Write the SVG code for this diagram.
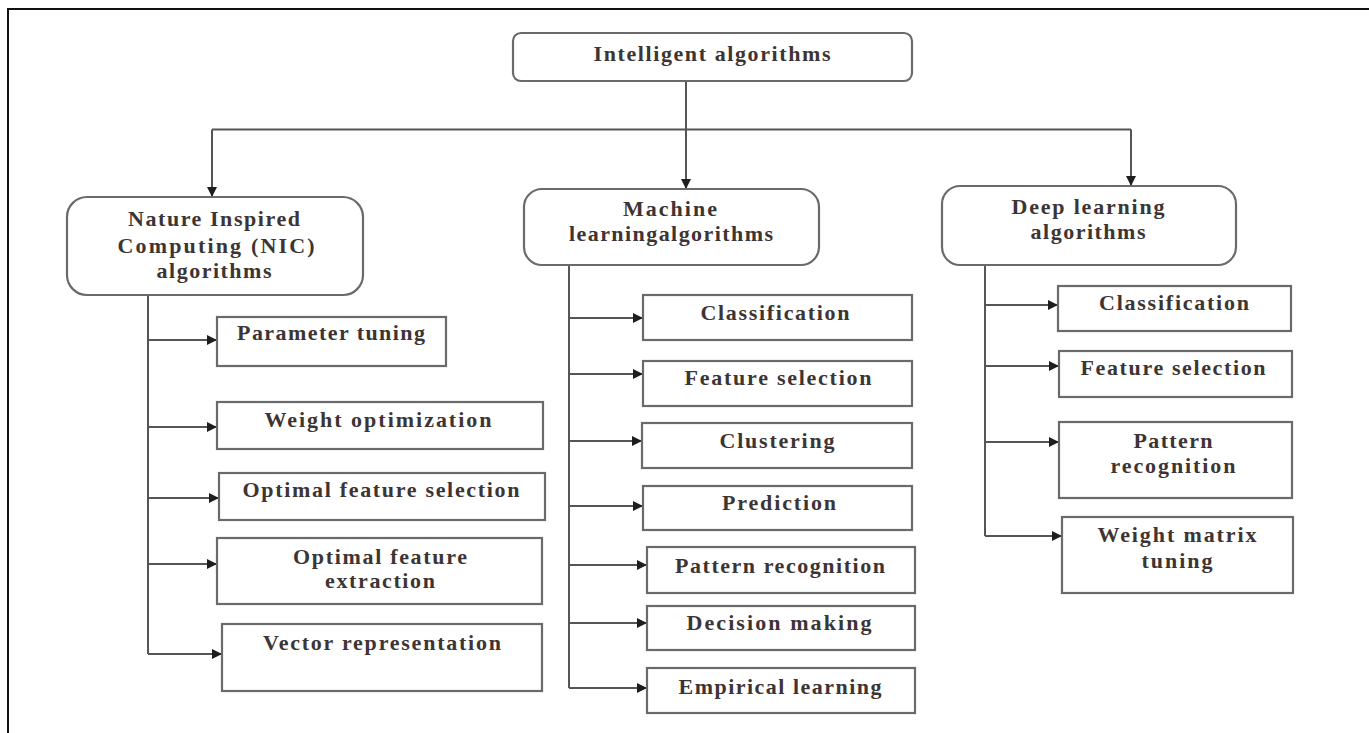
<svg xmlns="http://www.w3.org/2000/svg" width="1369" height="733" viewBox="0 0 1369 733">
  <defs>
    <marker id="arrow" viewBox="0 0 10 10" refX="10" refY="5" markerWidth="11" markerHeight="10" markerUnits="userSpaceOnUse" orient="auto">
      <path d="M0,0 L10,5 L0,10 z" fill="#1e1e1e"/>
    </marker>
    <style>
      .frame { stroke: #111; stroke-width: 2; fill: none; }
      .node { fill: #ffffff; stroke: #6a6a6a; stroke-width: 2.2; }
      .leaf { fill: #ffffff; stroke: #6a6a6a; stroke-width: 2.2; }
      .link { fill: none; stroke: #555; stroke-width: 2; }
      .arr { marker-end: url(#arrow); }
      text { font-family: "Liberation Serif", "Times New Roman", serif; font-size: 22px; font-weight: bold; fill: #3d3434; text-anchor: middle; }
    </style>
  </defs>

  <rect width="1369" height="733" fill="#ffffff"/>

  <!-- outer frame (top and left edges) -->
  <path class="frame" d="M8,733 V9 H1369"/>

  <!-- connectors -->
  <g id="connectors">
    <path class="link arr" d="M686,81 V189"/>
    <path class="link" d="M212,129.5 H1131"/>
    <path class="link arr" d="M212,129.5 V197"/>
    <path class="link arr" d="M1131,129.5 V186"/>

    <!-- NIC branch -->
    <path class="link" d="M148,295 V654"/>
    <path class="link arr" d="M148,340 H217"/>
    <path class="link arr" d="M148,427 H217"/>
    <path class="link arr" d="M148,498 H219"/>
    <path class="link arr" d="M148,564 H217"/>
    <path class="link arr" d="M148,654 H222"/>

    <!-- machine learning branch -->
    <path class="link" d="M569,265 V688"/>
    <path class="link arr" d="M569,318 H643"/>
    <path class="link arr" d="M569,374 H643"/>
    <path class="link arr" d="M569,441 H642"/>
    <path class="link arr" d="M569,506 H643"/>
    <path class="link arr" d="M569,565 H647"/>
    <path class="link arr" d="M569,623 H647"/>
    <path class="link arr" d="M569,688 H647"/>

    <!-- deep learning branch -->
    <path class="link" d="M985,265 V536"/>
    <path class="link arr" d="M985,305 H1058"/>
    <path class="link arr" d="M985,366 H1059"/>
    <path class="link arr" d="M985,442 H1059"/>
    <path class="link arr" d="M985,536 H1062"/>
  </g>

  <!-- root -->
  <g id="intelligent-algorithms">
    <rect class="node" x="513" y="33" width="399" height="48" rx="8"/>
    <text x="712" y="61" textLength="237" lengthAdjust="spacing">Intelligent algorithms</text>
  </g>

  <!-- second level -->
  <g id="nic-algorithms">
    <rect class="node" x="67" y="197" width="296" height="98" rx="20"/>
    <text x="214" y="226" textLength="172" lengthAdjust="spacing">Nature Inspired</text>
    <text x="216" y="253" textLength="197" lengthAdjust="spacing">Computing (NIC)</text>
    <text x="214" y="278" textLength="115" lengthAdjust="spacing">algorithms</text>
  </g>
  <g id="ml-algorithms">
    <rect class="node" x="524" y="189" width="295" height="76" rx="18"/>
    <text x="670" y="216" textLength="94" lengthAdjust="spacing">Machine</text>
    <text x="671" y="241" textLength="204" lengthAdjust="spacing">learningalgorithms</text>
  </g>
  <g id="dl-algorithms">
    <rect class="node" x="942" y="186" width="294" height="79" rx="18"/>
    <text x="1088" y="214" textLength="153" lengthAdjust="spacing">Deep learning</text>
    <text x="1088" y="239" textLength="115" lengthAdjust="spacing">algorithms</text>
  </g>

  <!-- NIC leaves -->
  <g id="nic-parameter-tuning">
    <rect class="leaf" x="217" y="317" width="229" height="49"/>
    <text x="331" y="340" textLength="188" lengthAdjust="spacing">Parameter tuning</text>
  </g>
  <g id="nic-weight-optimization">
    <rect class="leaf" x="217" y="402" width="326" height="47"/>
    <text x="378" y="427" textLength="227" lengthAdjust="spacing">Weight optimization</text>
  </g>
  <g id="nic-optimal-feature-selection">
    <rect class="leaf" x="219" y="473" width="326" height="47"/>
    <text x="381" y="497" textLength="277" lengthAdjust="spacing">Optimal feature selection</text>
  </g>
  <g id="nic-optimal-feature-extraction">
    <rect class="leaf" x="217" y="538" width="325" height="66"/>
    <text x="380" y="564" textLength="174" lengthAdjust="spacing">Optimal feature</text>
    <text x="380" y="588" textLength="110" lengthAdjust="spacing">extraction</text>
  </g>
  <g id="nic-vector-representation">
    <rect class="leaf" x="222" y="624" width="320" height="67"/>
    <text x="382" y="650" textLength="238" lengthAdjust="spacing">Vector representation</text>
  </g>

  <!-- machine learning leaves -->
  <g id="ml-classification">
    <rect class="leaf" x="643" y="295" width="269" height="45"/>
    <text x="775" y="320" textLength="149" lengthAdjust="spacing">Classification</text>
  </g>
  <g id="ml-feature-selection">
    <rect class="leaf" x="643" y="361" width="269" height="45"/>
    <text x="778" y="385" textLength="187" lengthAdjust="spacing">Feature selection</text>
  </g>
  <g id="ml-clustering">
    <rect class="leaf" x="642" y="423" width="270" height="45"/>
    <text x="777" y="448" textLength="115" lengthAdjust="spacing">Clustering</text>
  </g>
  <g id="ml-prediction">
    <rect class="leaf" x="643" y="486" width="269" height="44"/>
    <text x="779" y="510" textLength="114" lengthAdjust="spacing">Prediction</text>
  </g>
  <g id="ml-pattern-recognition">
    <rect class="leaf" x="647" y="547" width="268" height="46"/>
    <text x="780" y="573" textLength="210" lengthAdjust="spacing">Pattern recognition</text>
  </g>
  <g id="ml-decision-making">
    <rect class="leaf" x="647" y="606" width="268" height="44"/>
    <text x="779" y="630" textLength="185" lengthAdjust="spacing">Decision making</text>
  </g>
  <g id="ml-empirical-learning">
    <rect class="leaf" x="647" y="668" width="268" height="45"/>
    <text x="780" y="694" textLength="203" lengthAdjust="spacing">Empirical learning</text>
  </g>

  <!-- deep learning leaves -->
  <g id="dl-classification">
    <rect class="leaf" x="1058" y="286" width="233" height="45"/>
    <text x="1174" y="310" textLength="150" lengthAdjust="spacing">Classification</text>
  </g>
  <g id="dl-feature-selection">
    <rect class="leaf" x="1059" y="351" width="233" height="46"/>
    <text x="1173" y="375" textLength="185" lengthAdjust="spacing">Feature selection</text>
  </g>
  <g id="dl-pattern-recognition">
    <rect class="leaf" x="1059" y="422" width="233" height="76"/>
    <text x="1173" y="448" textLength="79" lengthAdjust="spacing">Pattern</text>
    <text x="1173" y="473" textLength="125" lengthAdjust="spacing">recognition</text>
  </g>
  <g id="dl-weight-matrix-tuning">
    <rect class="leaf" x="1062" y="517" width="231" height="76"/>
    <text x="1177" y="542" textLength="159" lengthAdjust="spacing">Weight matrix</text>
    <text x="1177" y="568" textLength="71" lengthAdjust="spacing">tuning</text>
  </g>
</svg>
